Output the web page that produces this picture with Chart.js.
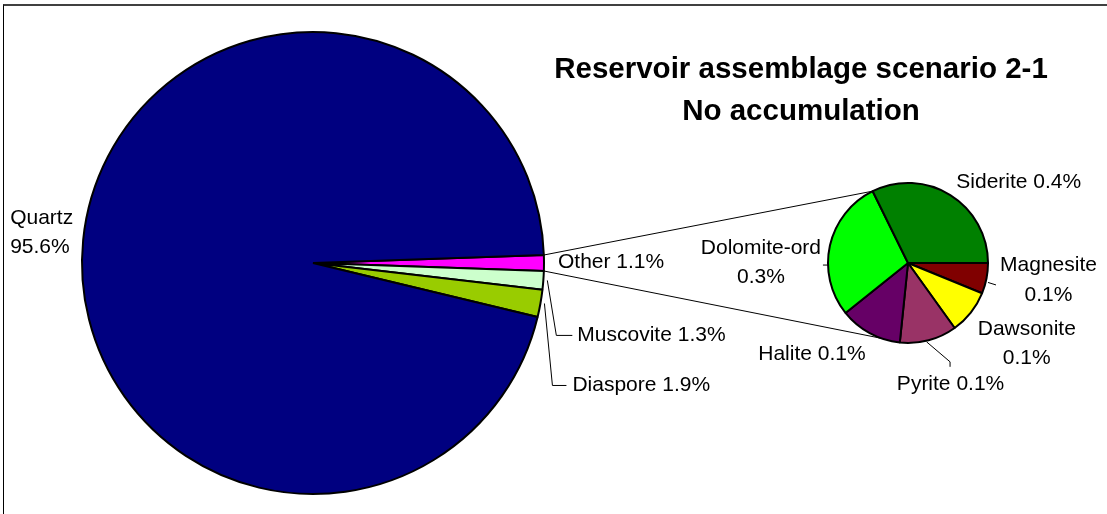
<!DOCTYPE html>
<html>
<head>
<meta charset="utf-8">
<title>Reservoir assemblage scenario 2-1</title>
<script src="https://cdn.jsdelivr.net/npm/chart.js@4.4.0/dist/chart.umd.min.js"></script>
<style>
  html, body { margin: 0; padding: 0; background: #fff; overflow: hidden; }
  #wrap { position: relative; width: 1107px; height: 514px; overflow: hidden; }
  #frame { position: absolute; left: 3px; top: 4px; width: 1200px; height: 600px;
           border-top: 2px solid #404040; border-left: 1px solid #000; }
  canvas { position: absolute; left: 0; top: 0; }
</style>
</head>
<body>
<div id="wrap">
  <div id="frame"></div>
  <canvas id="mainPie" width="1107" height="514"></canvas>
  <canvas id="subPie" width="1107" height="514"></canvas>
</div>
<script>
// Main pie: share of each mineral in the assemblage (%)
const mainLabels = ['Other', 'Muscovite', 'Diaspore', 'Quartz'];
const mainValues = [1.1, 1.3, 1.9, 95.6];
const mainColors = ['#FF00FF', '#CCFFCC', '#99CC00', '#000080'];

// Second pie: what "Other" is made of (%)
const subLabels = ['Magnesite', 'Dawsonite', 'Pyrite', 'Halite', 'Dolomite-ord', 'Siderite'];
const subValues = [0.068, 0.098, 0.127, 0.139, 0.313, 0.355];
const subColors = ['#800000', '#FFFF00', '#993366', '#660066', '#00FF00', '#008000'];

const titleLines = ['Reservoir assemblage scenario 2-1', 'No accumulation'];

const FONT = '21px "Liberation Sans", Arial, sans-serif';
const TITLE_FONT = 'bold 29.5px "Liberation Sans", Arial, sans-serif';
const LINE_H = 29.5;

// Label placement, relative to the outer middle point of each slice
const labelLayout = {
  'Quartz':       { dx: -73, dy: -7, align: 'left', wrap: true },
  'Other':        { dx: 14, dy: -1, align: 'left' },
  'Muscovite':    { dx: 34, dy: 55, align: 'left', leader: [[4, 0], [13, 55], [29, 55]] },
  'Diaspore':     { dx: 32, dy: 82, align: 'left', leader: [[4, 0], [12, 82], [26, 82]] },
  'Magnesite':    { dx: 62, dy: 2, align: 'center', wrap: true, leader: [[1.5, 4], [9.5, 6.5]] },
  'Dawsonite':    { dx: 56, dy: 31, align: 'center', wrap: true },
  'Pyrite':       { dx: 22, dy: 44, align: 'center', leader: [[-2, 1.5], [21.5, 21.5], [21.5, 26.5]] },
  'Halite':       { dx: -4, dy: 21, align: 'right' },
  'Dolomite-ord': { dx: -69, dy: 17, align: 'center', wrap: true, leader: [[-2, 19.5], [-7, 19.5]] },
  'Siderite':     { dx: 6, dy: -13, align: 'left' }
};

// where the two joining lines meet the second pie (degrees, clockwise from 3 o'clock)
const joinAngles = [244, 110];

const rad = d => d * Math.PI / 180;

function drawSliceLabels(chart, names, values) {
  const ctx = chart.ctx;
  const arcs = chart.getDatasetMeta(0).data;
  ctx.save();
  ctx.font = FONT;
  ctx.fillStyle = '#000';
  ctx.strokeStyle = '#000';
  ctx.lineWidth = 1;
  ctx.textBaseline = 'middle';
  arcs.forEach((arc, i) => {
    const lay = labelLayout[names[i]];
    const mid = (arc.startAngle + arc.endAngle) / 2;
    const ex = arc.x + Math.cos(mid) * arc.outerRadius;
    const ey = arc.y + Math.sin(mid) * arc.outerRadius;
    if (lay.leader) {
      ctx.beginPath();
      lay.leader.forEach(([px, py], k) => {
        if (k === 0) ctx.moveTo(ex + px, ey + py);
        else ctx.lineTo(ex + px, ey + py);
      });
      ctx.stroke();
    }
    const pct = values[i].toFixed(1) + '%';
    const lines = lay.wrap ? [names[i], pct] : [names[i] + ' ' + pct];
    ctx.textAlign = lay.align;
    const y0 = ey + lay.dy - (lines.length - 1) * LINE_H / 2;
    lines.forEach((t, k) => ctx.fillText(t, ex + lay.dx, y0 + k * LINE_H));
  });
  ctx.restore();
}

const mainTotal = mainValues.reduce((a, b) => a + b, 0);
// centre the "Other" slice on the horizontal
const mainRotation = 90 - (mainValues[0] / mainTotal) * 360 / 2;

const mainChart = new Chart(document.getElementById('mainPie'), {
  type: 'pie',
  data: {
    labels: mainLabels,
    datasets: [{
      data: mainValues,
      backgroundColor: mainColors,
      borderColor: '#000',
      borderWidth: 2
    }]
  },
  options: {
    responsive: false,
    animation: false,
    events: [],
    radius: 231,
    rotation: mainRotation,
    layout: { padding: { left: 0, right: 481, top: 12, bottom: 0 } },
    plugins: { legend: { display: false }, tooltip: { enabled: false } }
  },
  plugins: [{
    id: 'mainLabels',
    afterDraw(chart) { drawSliceLabels(chart, mainLabels, mainValues); }
  }]
});

new Chart(document.getElementById('subPie'), {
  type: 'pie',
  data: {
    labels: subLabels,
    datasets: [{
      data: subValues,
      backgroundColor: subColors,
      borderColor: '#000',
      borderWidth: 2
    }]
  },
  options: {
    responsive: false,
    animation: false,
    events: [],
    radius: 80,
    rotation: 90,
    layout: { padding: { left: 709, right: 0, top: 12, bottom: 0 } },
    plugins: { legend: { display: false }, tooltip: { enabled: false } }
  },
  plugins: [{
    id: 'joinLines',
    beforeDatasetsDraw(chart) {
      // lines from the "Other" slice to the second pie
      const other = mainChart.getDatasetMeta(0).data[0];
      const sub = chart.getDatasetMeta(0).data[0];
      const ctx = chart.ctx;
      ctx.save();
      ctx.strokeStyle = '#000';
      ctx.lineWidth = 1;
      [other.startAngle, other.endAngle].forEach((a, k) => {
        const b = rad(joinAngles[k]);
        ctx.beginPath();
        ctx.moveTo(other.x + Math.cos(a) * other.outerRadius, other.y + Math.sin(a) * other.outerRadius);
        ctx.lineTo(sub.x + Math.cos(b) * sub.outerRadius, sub.y + Math.sin(b) * sub.outerRadius);
        ctx.stroke();
      });
      ctx.restore();
    },
    afterDraw(chart) {
      drawSliceLabels(chart, subLabels, subValues);
      const ctx = chart.ctx;
      ctx.save();
      ctx.font = TITLE_FONT;
      ctx.fillStyle = '#000';
      ctx.textAlign = 'center';
      ctx.textBaseline = 'alphabetic';
      ctx.fillText(titleLines[0], 801, 78);
      ctx.fillText(titleLines[1], 801, 120);
      ctx.restore();
    }
  }]
});
</script>
</body>
</html>
